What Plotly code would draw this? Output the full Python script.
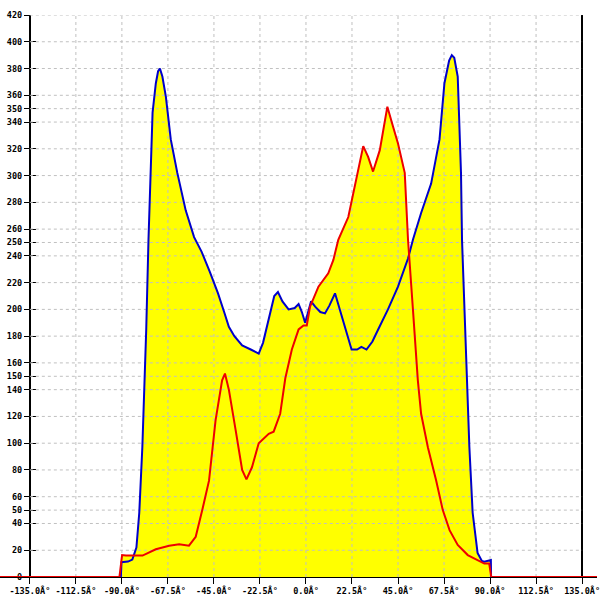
import plotly.graph_objects as go

# ---- data ----
blue_x = [-90.5, -90.2, -87.0, -84.9, -82.9, -81.5, -80.0, -79.1, -78.1, -77.0, -76.6, -75.0, -73.4,
          -72.3, -71.4, -70.2, -68.5, -66.1, -62.9, -58.8, -54.7, -51.0, -47.0, -43.0, -40.0, -37.7,
          -35.0, -31.2, -27.0, -23.1, -21.0, -18.0, -15.5, -13.7, -11.5, -8.5, -5.5, -3.6, -2.0, -0.4,
          1.2, 2.5, 4.5, 7.0, 9.3, 11.5, 14.2, 16.5, 19.5, 22.3, 25.0, 27.1, 29.6, 32.5, 35.3, 40.1,
          45.0, 49.9, 52.3, 56.3, 61.2, 65.3, 67.7, 70.0, 71.3, 72.5, 74.2, 75.8, 76.3, 78.7, 79.9,
          81.5, 83.9, 86.0, 87.2, 90.4, 90.5]
blue_y = [0, 11, 11.5, 13, 22, 48, 97, 135, 185, 252, 275, 347, 369,
          378, 380, 374, 359, 327, 302, 274, 254, 243, 228, 212, 198, 187,
          180, 173, 170, 167, 175, 195, 210, 213, 206, 200, 201, 204, 198, 190,
          200, 206, 202, 198, 197, 203, 212, 200, 183, 170, 170, 172, 170, 176, 185, 200,
          217, 238, 252, 272, 294, 327, 369, 386, 390, 388, 374, 302, 252, 147, 97,
          48, 18, 12, 11.4, 12.7, 0]

red_x = [-160.0, -91.2, -89.9, -88.0, -79.9, -73.4, -66.9, -62.0, -57.2, -53.9, -50.7, -47.4, -44.2,
         -41.0, -39.6, -37.7, -34.4, -31.2, -29.1, -26.4, -23.1, -18.2, -15.8, -12.6, -10.1, -6.9,
         -3.6, -1.2, 0.4, 2.0, 6.1, 10.9, 13.4, 15.8, 20.7, 24.7, 28.0, 30.4, 32.8, 36.1, 39.8,
         42.6, 45.0, 48.3, 49.9, 52.3, 54.7, 56.3, 59.6, 63.6, 66.9, 70.2, 74.2, 79.1, 83.9, 87.2,
         89.6, 90.6, 160.0]
red_y = [0, 0, 16.4, 16, 16, 20.7, 23.4, 24.4, 23.4, 30, 50, 72, 117,
         147, 152, 140, 110, 80, 73, 82, 100, 107, 108.6, 122, 148.5, 170,
         185, 188, 188, 202, 217, 227, 237, 252, 269, 297, 322, 314, 303, 319, 351.5,
         336.5, 324, 302, 252, 200, 147, 122, 97, 72.5, 50, 35, 24, 16.4, 12.7, 10,
         10, 0, 0]

x_ticks = [-135, -112.5, -90, -67.5, -45, -22.5, 0, 22.5, 45, 67.5, 90, 112.5, 135]
x_tick_labels = ["-135.0Â°", "-112.5Â°", "-90.0Â°", "-67.5Â°", "-45.0Â°", "-22.5Â°", "0.0Â°",
                 "22.5Â°", "45.0Â°", "67.5Â°", "90.0Â°", "112.5Â°", "135.0Â°"]
y_ticks = [0, 20, 40, 50, 60, 80, 100, 120, 140, 150, 160, 180, 200, 220, 240, 250, 260,
           280, 300, 320, 340, 350, 360, 380, 400, 420]

X_MIN, X_MAX = -135, 135
Y_MIN, Y_MAX = 0, 420

# ---- layout geometry ----
W, H = 600, 600
L_AX, R_AX = 30, 585          # pixel position of -135 and 135
TOP, BOTTOM = 15, 577         # pixel position of 420 and 0
px_per = (R_AX - L_AX) / (X_MAX - X_MIN)
x_range = [X_MIN - L_AX / px_per, X_MAX + (W - R_AX) / px_per]

# gridline trace built from tick arrays (drawn above fill, below curves)
gx, gy = [], []
for v in y_ticks[1:]:
    gx += [X_MIN, X_MAX, None]
    gy += [v, v, None]
for v in x_ticks[1:-1]:
    gx += [v, v, None]
    gy += [Y_MIN, Y_MAX, None]

YELLOW = "#ffff00"
BLUE = "#0000cc"
RED = "#ee0000"

fig = go.Figure()
fig.add_trace(go.Scatter(x=blue_x, y=blue_y, mode="lines", fill="tozeroy",
                         fillcolor=YELLOW, line=dict(width=0, color=YELLOW), hoverinfo="skip"))
fig.add_trace(go.Scatter(x=red_x, y=red_y, mode="lines", fill="tozeroy",
                         fillcolor=YELLOW, line=dict(width=0, color=YELLOW), hoverinfo="skip"))
fig.add_trace(go.Scatter(x=gx, y=gy, mode="lines",
                         line=dict(color="#c0c0c0", width=1, dash="3px,3px"), hoverinfo="skip"))
fig.add_trace(go.Scatter(x=blue_x, y=blue_y, mode="lines", line=dict(color=BLUE, width=2)))
fig.add_trace(go.Scatter(x=red_x, y=red_y, mode="lines", line=dict(color=RED, width=2)))
# empty traces so the extra axes (right border, inner tick halves) are drawn
fig.add_trace(go.Scatter(x=[None], y=[None], yaxis="y2", mode="lines", showlegend=False))
fig.add_trace(go.Scatter(x=[None], y=[None], yaxis="y3", mode="lines", showlegend=False))

tick_font = dict(family="DejaVu Sans Mono", size=8.5, color="#000000", weight="bold")

fig.update_layout(
    width=W, height=H,
    margin=dict(l=0, r=0, t=TOP, b=H - BOTTOM),
    paper_bgcolor="white", plot_bgcolor="white",
    showlegend=False,
    xaxis=dict(range=x_range, tickmode="array", tickvals=x_ticks, ticktext=x_tick_labels,
               showgrid=False, zeroline=False, showline=True, linecolor="black", linewidth=1,
               ticks="outside", ticklen=6, tickcolor="black", tickfont=tick_font,
               ticklabeloverflow="allow", layer="below traces", fixedrange=True),
    yaxis=dict(range=[Y_MIN, Y_MAX], tickmode="array", tickvals=y_ticks,
               ticktext=[str(v) for v in y_ticks],
               anchor="free", position=L_AX / W,
               showgrid=False, zeroline=False, showline=True, linecolor="black", linewidth=2,
               ticks="outside", ticklen=5, tickcolor="black", tickwidth=1, tickfont=tick_font,
               ticklabeloverflow="allow", layer="below traces", fixedrange=True),
    yaxis2=dict(range=[Y_MIN, Y_MAX], overlaying="y", anchor="free", position=R_AX / W,
                side="right", showgrid=False, zeroline=False, showline=True, linecolor="black",
                linewidth=2, showticklabels=False, ticks="", layer="below traces", fixedrange=True),
    yaxis3=dict(range=[Y_MIN, Y_MAX], overlaying="y", anchor="free", position=L_AX / W,
                side="left", showgrid=False, zeroline=False, showline=False,
                tickmode="array", tickvals=y_ticks, ticks="inside", ticklen=5,
                tickcolor="black", tickwidth=1, showticklabels=False,
                layer="below traces", fixedrange=True),
)

fig.write_html("out.html", config={"displayModeBar": False},
               post_script="document.body.style.margin='0';document.body.style.padding='0';")
